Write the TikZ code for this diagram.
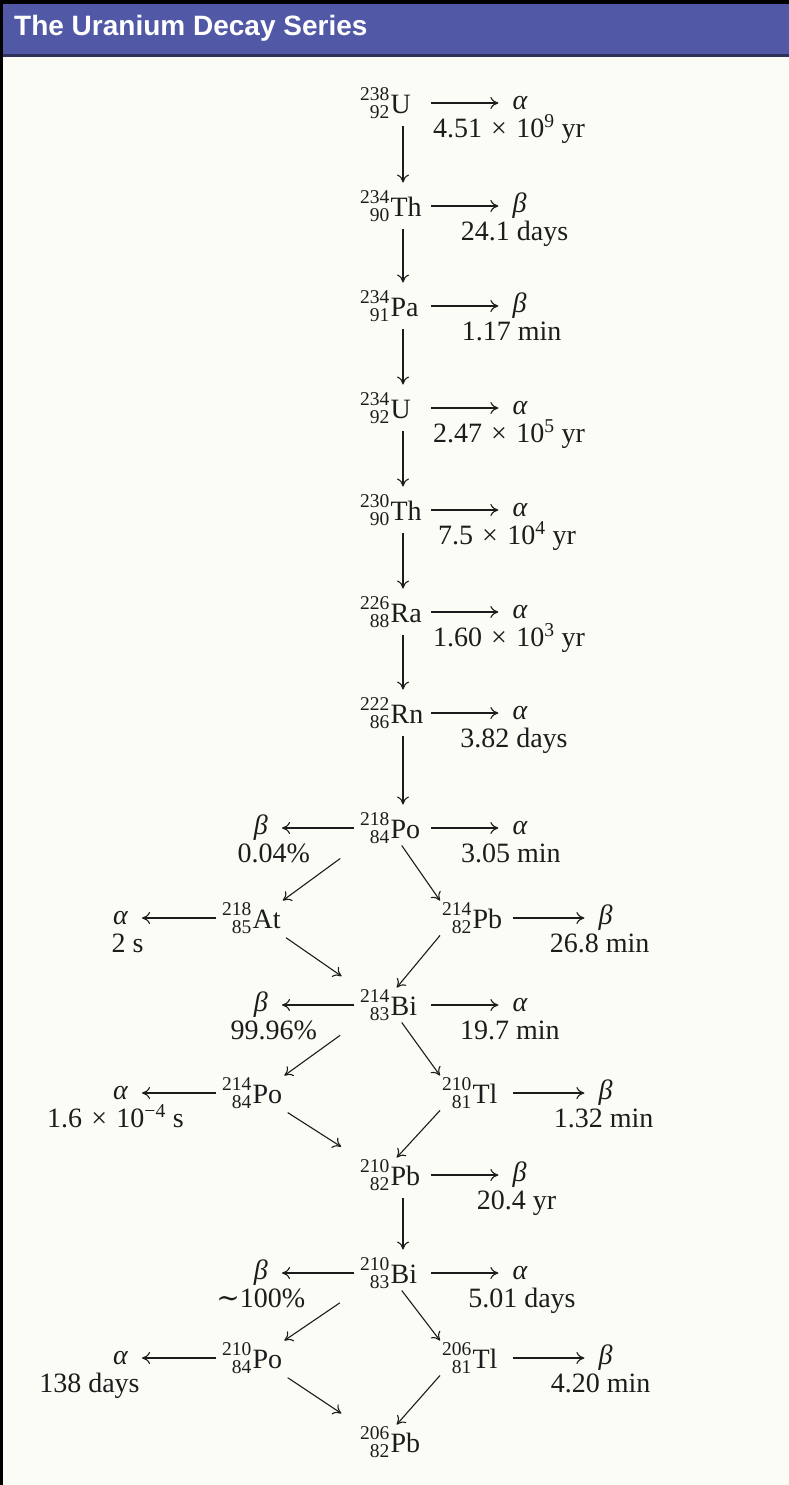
\documentclass[tikz,border=0pt]{standalone}
\usepackage{fontspec}
\setmainfont{Liberation Serif}
\newfontfamily\titlefont{Liberation Sans}
\newfontfamily\symfont{DejaVu Serif}
\usetikzlibrary{positioning,arrows.meta}

\definecolor{cabecera}{RGB}{81,89,167}
\definecolor{papel}{RGB}{252,252,246}
\definecolor{tinta}{RGB}{28,28,28}

\newlength\nucA
\newlength\nucB
\newcommand{\isofont}{\fontsize{19.5}{19.5}\selectfont}
\newcommand{\nuc}[3]{%
  \settowidth{\nucA}{\isofont #1}\settowidth{\nucB}{\isofont #2}%
  \ifdim\nucB>\nucA\setlength{\nucA}{\nucB}\fi
  \makebox[\nucA][r]{\raisebox{.47em}{\isofont #1}}\kern-\nucA
  \makebox[\nucA][r]{\raisebox{-.15em}{\isofont #2}}\kern.04em#3}
\newcommand{\por}{\hspace{.33em}×\hspace{.33em}}

\begin{document}
\begin{tikzpicture}[
    x=1pt, y=-1pt,
    font=\fontsize{28}{33}\selectfont,
    text=tinta,
    nucleo/.style={inner sep=2pt, anchor=west},
    nucleoa/.style={nucleo, text width=65pt, align=left},
    particula/.style={inner sep=2pt, font=\fontsize{28}{33}\selectfont\itshape},
    vida/.style={inner sep=0pt, anchor=base},
    flecha/.style={-{To[length=8pt,width=12pt]}, line width=1.1pt, draw=tinta},
    lateral/.style={flecha, shorten <=4pt, shorten >=12pt},
    bajada/.style={flecha, shorten <=6pt, shorten >=6pt}
]
\useasboundingbox (0,0) rectangle (789,1485);
\fill[papel] (0,0) rectangle (789,1485);
\fill[cabecera] (0,0) rectangle (789,56);
\fill[cabecera!55!black] (0,54.5) rectangle (789,57);
\fill[black] (0,0) rectangle (789,4);
\fill[black] (0,0) rectangle (3,1485);
\node[anchor=base west, inner sep=0pt, text=white,
      font=\titlefont\bfseries\fontsize{28}{30}\selectfont] (titulo) at (14,36)
      {The Uranium Decay Series};

\coordinate (eje) at (403,0);

% cadena principal
\node[nucleoa] (u238)  at (358,103)  {\nuc{238}{92}{U}};
\node[nucleoa] (th234) at (358,206)  {\nuc{234}{90}{Th}};
\node[nucleoa] (pa234) at (358,306)  {\nuc{234}{91}{Pa}};
\node[nucleoa] (u234)  at (358,408)  {\nuc{234}{92}{U}};
\node[nucleoa] (th230) at (358,510)  {\nuc{230}{90}{Th}};
\node[nucleoa] (ra226) at (358,612)  {\nuc{226}{88}{Ra}};
\node[nucleoa] (rn222) at (358,713)  {\nuc{222}{86}{Rn}};
\node[nucleoa] (po218) at (358,828)  {\nuc{218}{84}{Po}};
\node[nucleo]  (at218) at (220,918)  {\nuc{218}{85}{At}};
\node[nucleoa] (pb214) at (440,918)  {\nuc{214}{82}{Pb}};
\node[nucleoa] (bi214) at (358,1005) {\nuc{214}{83}{Bi}};
\node[nucleo]  (po214) at (220,1093) {\nuc{214}{84}{Po}};
\node[nucleoa] (tl210) at (440,1093) {\nuc{210}{81}{Tl}};
\node[nucleoa] (pb210) at (358,1175) {\nuc{210}{82}{Pb}};
\node[nucleoa] (bi210) at (358,1273) {\nuc{210}{83}{Bi}};
\node[nucleo]  (po210) at (220,1358) {\nuc{210}{84}{Po}};
\node[nucleoa] (tl206) at (440,1358) {\nuc{206}{81}{Tl}};
\node[nucleoa] (pb206) at (358,1442) {\nuc{206}{82}{Pb}};

% particulas emitidas
\node[particula, right=83pt of u238]  (u238a)  {α};
\node[particula, right=83pt of th234] (th234b) {β};
\node[particula, right=83pt of pa234] (pa234b) {β};
\node[particula, right=83pt of u234]  (u234a)  {α};
\node[particula, right=83pt of th230] (th230a) {α};
\node[particula, right=83pt of ra226] (ra226a) {α};
\node[particula, right=83pt of rn222] (rn222a) {α};
\node[particula, right=83pt of po218] (po218a) {α};
\node[particula, left=88pt of po218]  (po218b) {β};
\node[particula, left=90pt of at218]  (at218a) {α};
\node[particula, right=87pt of pb214] (pb214b) {β};
\node[particula, right=83pt of bi214] (bi214a) {α};
\node[particula, left=88pt of bi214]  (bi214b) {β};
\node[particula, left=90pt of po214]  (po214a) {α};
\node[particula, right=87pt of tl210] (tl210b) {β};
\node[particula, right=83pt of pb210] (pb210b) {β};
\node[particula, right=83pt of bi210] (bi210a) {α};
\node[particula, left=88pt of bi210]  (bi210b) {β};
\node[particula, left=90pt of po210]  (po210a) {α};
\node[particula, right=87pt of tl206] (tl206b) {β};

% vidas medias y ramas
\node[vida] at ([xshift=-11pt,yshift=-34pt]u238a.center)  {4.51\por10\textsuperscript{9} yr};
\node[vida] at ([xshift=-5pt,yshift=-34pt]th234b.center)  {24.1 days};
\node[vida] at ([xshift=-8pt,yshift=-34pt]pa234b.center)  {1.17 min};
\node[vida] at ([xshift=-11pt,yshift=-34pt]u234a.center)  {2.47\por10\textsuperscript{5} yr};
\node[vida] at ([xshift=-13pt,yshift=-34pt]th230a.center) {7.5\por10\textsuperscript{4} yr};
\node[vida] at ([xshift=-11pt,yshift=-34pt]ra226a.center) {1.60\por10\textsuperscript{3} yr};
\node[vida] at ([xshift=-6pt,yshift=-34pt]rn222a.center)  {3.82 days};
\node[vida] at ([xshift=-9pt,yshift=-34pt]po218a.center)  {3.05 min};
\node[vida] at ([xshift=13pt,yshift=-34pt]po218b.center)  {0.04\%};
\node[vida] at ([xshift=7pt,yshift=-34pt]at218a.center)   {2 s};
\node[vida] at ([xshift=-6pt,yshift=-34pt]pb214b.center)  {26.8 min};
\node[vida] at ([xshift=-10pt,yshift=-34pt]bi214a.center) {19.7 min};
\node[vida] at ([xshift=13pt,yshift=-34pt]bi214b.center)  {99.96\%};
\node[vida] at ([xshift=-5pt,yshift=-34pt]po214a.center)  {1.6\por10\textsuperscript{−4} s};
\node[vida] at ([xshift=-2pt,yshift=-34pt]tl210b.center)  {1.32 min};
\node[vida] at ([xshift=-3pt,yshift=-34pt]pb210b.center)  {20.4 yr};
\node[vida] at ([xshift=2pt,yshift=-34pt]bi210a.center)   {5.01 days};
\node[vida] at ([yshift=-34pt]bi210b.center)              {{\symfont ∼}100\%};
\node[vida] at ([xshift=-31pt,yshift=-34pt]po210a.center) {138 days};
\node[vida] at ([xshift=-5pt,yshift=-34pt]tl206b.center)  {4.20 min};

% flechas laterales
\draw[lateral] (u238)  -- (u238a);
\draw[lateral] (th234) -- (th234b);
\draw[lateral] (pa234) -- (pa234b);
\draw[lateral] (u234)  -- (u234a);
\draw[lateral] (th230) -- (th230a);
\draw[lateral] (ra226) -- (ra226a);
\draw[lateral] (rn222) -- (rn222a);
\draw[lateral] (po218) -- (po218a);
\draw[lateral] (po218) -- (po218b);
\draw[lateral] (at218) -- (at218a);
\draw[lateral] (pb214) -- (pb214b);
\draw[lateral] (bi214) -- (bi214a);
\draw[lateral] (bi214) -- (bi214b);
\draw[lateral] (po214) -- (po214a);
\draw[lateral] (tl210) -- (tl210b);
\draw[lateral] (pb210) -- (pb210b);
\draw[lateral] (bi210) -- (bi210a);
\draw[lateral] (bi210) -- (bi210b);
\draw[lateral] (po210) -- (po210a);
\draw[lateral] (tl206) -- (tl206b);

% flechas verticales
\draw[bajada] (u238.south -| eje)  -- (th234.north -| eje);
\draw[bajada] (th234.south -| eje) -- (pa234.north -| eje);
\draw[bajada] (pa234.south -| eje) -- (u234.north -| eje);
\draw[bajada] (u234.south -| eje)  -- (th230.north -| eje);
\draw[bajada] (th230.south -| eje) -- (ra226.north -| eje);
\draw[bajada] (ra226.south -| eje) -- (rn222.north -| eje);
\draw[bajada] (rn222.south -| eje) -- (po218.north -| eje);
\draw[bajada] (pb210.south -| eje) -- (bi210.north -| eje);

% rombos de ramificacion
\draw[flecha, shorten <=22pt] (po218.south west) -- (at218.north east);
\draw[flecha] ([xshift=9pt]po218.south) -- (pb214.north west);
\draw[flecha, shorten <=4pt, shorten >=20pt] (at218.south east) -- (bi214.north west);
\draw[flecha] (pb214.south west) -- ([xshift=4pt]bi214.north);

\draw[flecha, shorten <=22pt] (bi214.south west) -- (po214.north east);
\draw[flecha] ([xshift=9pt]bi214.south) -- (tl210.north west);
\draw[flecha, shorten <=4pt, shorten >=20pt] (po214.south east) -- (pb210.north west);
\draw[flecha] (tl210.south west) -- ([xshift=4pt]pb210.north);

\draw[flecha, shorten <=22pt] (bi210.south west) -- (po210.north east);
\draw[flecha] ([xshift=9pt]bi210.south) -- (tl206.north west);
\draw[flecha, shorten <=4pt, shorten >=20pt] (po210.south east) -- (pb206.north west);
\draw[flecha] (tl206.south west) -- ([xshift=4pt]pb206.north);

\end{tikzpicture}
\end{document}
